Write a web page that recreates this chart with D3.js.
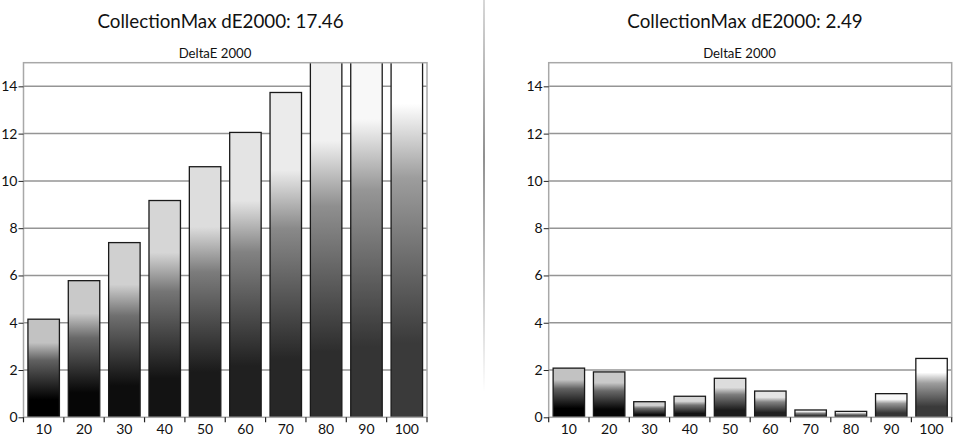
<!DOCTYPE html>
<html>
<head>
<meta charset="utf-8">
<script src="https://cdn.jsdelivr.net/npm/d3@7"></script>
<style>
html,body{margin:0;padding:0;background:#fff;}
svg{display:block;font-family:Lato,"Open Sans",sans-serif;}
</style>
</head>
<body>
<svg id="chart" width="972" height="446"></svg>
<script>
const categories = ["10","20","30","40","50","60","70","80","90","100"];
const leftValues = [4.15, 5.78, 7.39, 9.17, 10.6, 12.05, 13.74, 15.4, 16.6, 17.46];
const rightValues = [2.08, 1.92, 0.66, 0.89, 1.65, 1.11, 0.31, 0.25, 1.0, 2.49];
const titles = ["CollectionMax dE2000: 17.46", "CollectionMax dE2000: 2.49"];
const subtitle = "DeltaE 2000";
const yTicks = [0, 2, 4, 6, 8, 10, 12, 14];
const yDomain = [0, 15];

const svg = d3.select("#chart");
const defs = svg.append("defs");

// per-category gradient colours
const topCol = d3.interpolateRgb("#c2c2c2", "#ffffff");
const botCol = d3.interpolateRgb("#000000", "#3a3a3a");
categories.forEach((c, i) => {
  const t = i / (categories.length - 1);
  const top = topCol(t), bot = botCol(t);
  const mid = d3.interpolateRgb(top, bot)(0.5);
  const g = defs.append("linearGradient").attr("id", "grad" + i)
    .attr("x1", 0).attr("y1", 0).attr("x2", 0).attr("y2", 1);
  [[0, top], [0.24, top], [0.42, mid], [0.82, bot], [1, bot]].forEach(([o, col]) =>
    g.append("stop").attr("offset", o).attr("stop-color", col));
});

// divider gradient
const dg = defs.append("linearGradient").attr("id", "divgrad")
  .attr("x1", 0).attr("y1", 0).attr("x2", 0).attr("y2", 1);
[[0, "#b0b0b0"], [0.4, "#222222"], [0.75, "#999999"], [1, "#ffffff"]].forEach(([o, col]) =>
  dg.append("stop").attr("offset", o).attr("stop-color", col));
svg.append("rect").attr("x", 483.5).attr("y", 0).attr("width", 1).attr("height", 392)
  .attr("fill", "url(#divgrad)");

const panels = [
  {x0: 23.5, x1: 427, values: leftValues, title: titles[0], cx: 220.5, sx: 215},
  {x0: 548.7, x1: 951.7, values: rightValues, title: titles[1], cx: 745, sx: 739.5}
];
const yTop = 62.7, yBot = 417.3;

panels.forEach((p, pi) => {
  const x = d3.scaleBand().domain(categories).range([p.x0, p.x1]).paddingInner(0.22).paddingOuter(0.11);
  const xb = d3.scaleLinear().domain([0, categories.length]).range([p.x0, p.x1]);
  const y = d3.scaleLinear().domain(yDomain).range([yBot, yTop]);
  const g = svg.append("g");

  g.append("text").attr("x", p.cx).attr("y", 27.5)
    .attr("text-anchor", "middle").attr("font-size", 18.8).attr("fill", "#111").text(p.title);
  g.append("text").attr("x", p.sx).attr("y", 57.5)
    .attr("text-anchor", "middle").attr("font-size", 13.2).attr("fill", "#111").text(subtitle);

  // gridlines
  g.append("g").selectAll("line").data(yTicks.filter(d => d > 0)).join("line")
    .attr("x1", p.x0).attr("x2", p.x1).attr("y1", d => y(d)).attr("y2", d => y(d))
    .attr("stroke", "#959595").attr("stroke-width", 1.5);

  const clipId = "clip" + pi;
  defs.append("clipPath").attr("id", clipId).append("rect")
    .attr("x", p.x0).attr("y", yTop).attr("width", p.x1 - p.x0).attr("height", yBot - yTop);

  g.append("g").attr("clip-path", `url(#${clipId})`).selectAll("rect")
    .data(p.values).join("rect")
    .attr("x", (d, i) => x(categories[i]))
    .attr("width", x.bandwidth())
    .attr("y", d => y(d))
    .attr("height", d => y(0) - y(d))
    .attr("fill", (d, i) => `url(#grad${i})`)
    .attr("stroke", "#1a1a1a").attr("stroke-width", 1.3);

  // frame
  g.append("rect").attr("x", p.x0).attr("y", yTop).attr("width", p.x1 - p.x0).attr("height", yBot - yTop)
    .attr("fill", "none").attr("stroke", "#a8a8a8").attr("stroke-width", 1.5);

  // y axis
  const ya = g.append("g").attr("transform", `translate(${p.x0},0)`)
    .call(d3.axisLeft(y).tickValues(yTicks).tickSize(5).tickPadding(1).tickFormat(d3.format("d")));
  ya.select(".domain").remove();
  ya.selectAll(".tick line").attr("stroke", "#222");
  ya.selectAll(".tick text").attr("font-size", 14).attr("fill", "#111").attr("font-family", "Lato, sans-serif");

  // x axis ticks at category boundaries
  g.append("g").selectAll("line").data(d3.range(categories.length + 1)).join("line")
    .attr("x1", d => xb(d)).attr("x2", d => xb(d)).attr("y1", yBot).attr("y2", yBot + 5)
    .attr("stroke", "#222").attr("stroke-width", 1.2);
  g.append("g").selectAll("text").data(categories).join("text")
    .attr("x", d => x(d) + x.bandwidth() / 2).attr("y", 433.5)
    .attr("text-anchor", "middle").attr("font-size", 14).attr("fill", "#111").text(d => d);
});
</script>
</body>
</html>
